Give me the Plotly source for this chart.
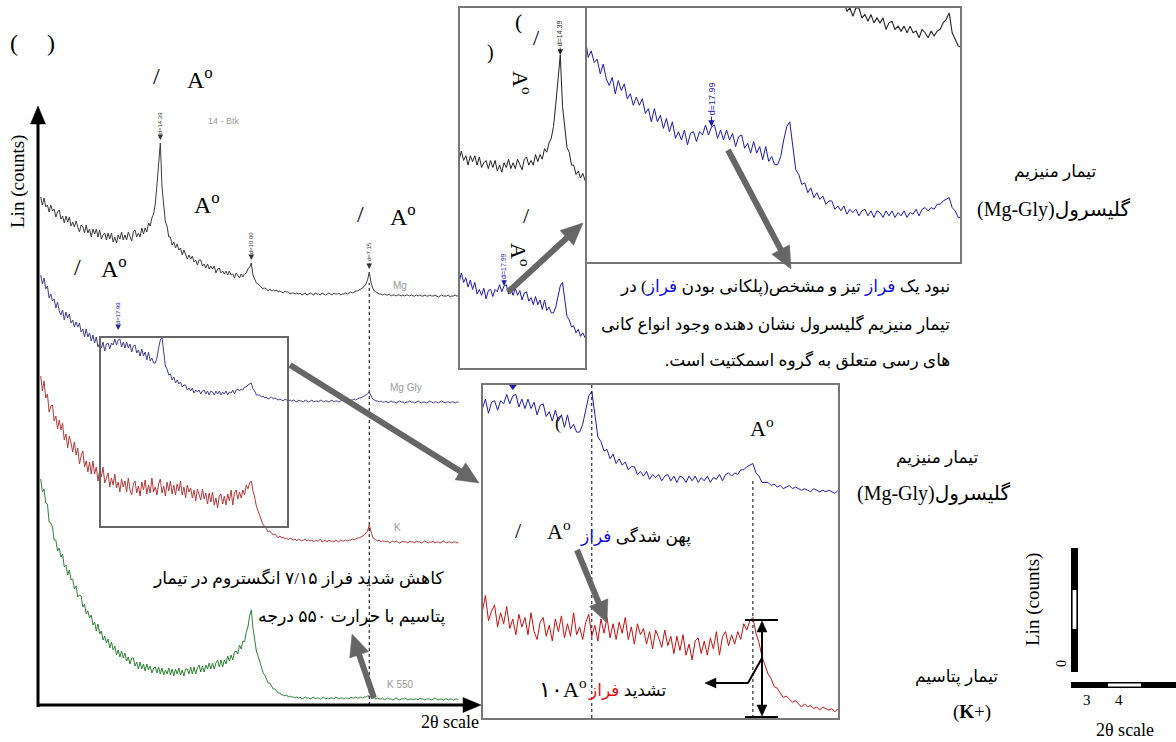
import math
import numpy as np
import plotly.graph_objects as go

# ---------------- data ----------------
TWO_THETA = np.round(2.6 + 0.05 * np.arange(249), 2)  # scan grid, degrees 2-theta

MG = [100, 92, 99, 90, 92, 85, 92, 86, 88, 80,
      85, 87, 78, 81, 74, 81, 75, 80, 71, 75,
      70, 76, 70, 65, 72, 70, 64, 72, 64, 68,
      60, 68, 63, 68, 60, 67, 58, 62, 64, 57,
      64, 58, 64, 55, 60, 54, 62, 58, 65, 57,
      62, 57, 65, 60, 56, 65, 67, 60, 64, 60,
      69, 63, 69, 65, 74, 71, 79, 83, 93, 112,
      135, 154, 110, 90, 75, 71, 60, 60, 52, 55,
      49, 53, 47, 49, 42, 47, 42, 38, 42, 38,
      41, 35, 37, 32, 37, 37, 31, 33, 29, 33,
      28, 31, 28, 31, 24, 28, 29, 24, 26, 23,
      26, 22, 26, 22, 23, 19, 24, 22, 19, 23,
      20, 23, 24, 28, 30, 34, 22, 18, 14, 13,
      11, 10, 8, 9, 8, 6, 8, 6, 7, 6,
      7, 5, 6, 5, 4, 6, 5, 5, 3, 4,
      4, 3, 4, 3, 4, 2, 3, 4, 2, 3,
      4, 3, 2, 4, 3, 3, 2, 4, 3, 2,
      3, 4, 3, 2, 4, 3, 3, 4, 2, 3,
      3, 4, 3, 4, 5, 4, 5, 6, 6, 7,
      8, 9, 11, 13, 17, 25, 15, 9, 6, 5,
      4, 3, 3, 2, 3, 2, 2, 3, 1, 2,
      2, 1, 2, 2, 1, 2, 1, 2, 2, 1,
      2, 1, 1, 2, 1, 2, 1, 1, 2, 1,
      1, 2, 1, 1, 2, 1, 0, 1, 2, 1,
      1, 1, 2, 0, 1, 1, 2, 1, 1]

MG_GLY = [128, 119, 125, 114, 117, 105, 109, 102, 104, 95,
          101, 92, 88, 93, 83, 91, 85, 89, 80, 83,
          76, 81, 76, 80, 71, 74, 66, 74, 66, 70,
          62, 68, 60, 66, 56, 60, 55, 61, 52, 59,
          60, 54, 60, 58, 64, 58, 63, 64, 56, 61,
          55, 61, 55, 59, 51, 57, 58, 50, 53, 47,
          54, 47, 51, 43, 51, 42, 45, 40, 40, 45,
          55, 63, 66, 50, 37, 34, 28, 29, 23, 26,
          20, 23, 19, 21, 16, 18, 18, 13, 15, 12,
          15, 10, 13, 11, 13, 9, 12, 13, 9, 12,
          8, 12, 11, 8, 12, 9, 12, 8, 11, 9,
          12, 8, 11, 10, 13, 9, 13, 14, 12, 14,
          13, 16, 16, 18, 19, 20, 14, 12, 8, 8,
          8, 6, 7, 5, 6, 4, 5, 6, 4, 5,
          4, 3, 4, 3, 2, 4, 3, 2, 3, 2,
          3, 2, 1, 3, 2, 2, 1, 3, 2, 1,
          2, 3, 1, 2, 2, 1, 3, 2, 1, 2,
          2, 1, 2, 3, 1, 2, 2, 1, 2, 3,
          2, 2, 3, 2, 3, 3, 4, 3, 4, 5,
          5, 6, 7, 8, 9, 11, 7, 4, 3, 2,
          2, 1, 2, 1, 1, 2, 0, 1, 2, 1,
          1, 0, 1, 2, 1, 1, 0, 1, 1, 2,
          1, 1, 0, 1, 2, 1, 0, 1, 1, 0,
          1, 2, 1, 0, 1, 1, 0, 1, 2, 1,
          0, 1, 1, 0, 1, 1, 0, 1, 1]

K_VALS = [167, 152, 162, 145, 149, 131, 137, 138, 122, 127,
          114, 123, 113, 120, 103, 109, 95, 107, 100, 91,
          101, 88, 95, 79, 87, 92, 76, 82, 71, 81,
          69, 82, 69, 76, 62, 73, 66, 76, 60, 66,
          70, 56, 65, 58, 69, 55, 61, 51, 64, 56,
          62, 51, 65, 53, 48, 59, 62, 50, 57, 47,
          61, 53, 63, 49, 58, 50, 65, 51, 56, 48,
          59, 64, 50, 57, 47, 61, 52, 62, 49, 58,
          48, 59, 52, 62, 48, 56, 45, 58, 51, 55,
          45, 53, 42, 54, 49, 43, 54, 44, 50, 39,
          50, 41, 51, 38, 45, 35, 47, 49, 39, 47,
          38, 49, 42, 53, 38, 50, 53, 44, 51, 45,
          53, 48, 58, 54, 60, 62, 52, 46, 37, 32,
          26, 23, 18, 17, 14, 11, 12, 10, 8, 9,
          7, 5, 7, 5, 6, 4, 5, 3, 5, 4,
          3, 4, 2, 4, 3, 2, 3, 4, 2, 3,
          2, 3, 1, 3, 2, 2, 4, 1, 2, 3,
          1, 3, 2, 2, 1, 3, 2, 1, 3, 2,
          2, 3, 2, 3, 3, 4, 3, 4, 5, 5,
          6, 7, 8, 10, 12, 18, 11, 6, 4, 3,
          2, 3, 1, 2, 2, 1, 2, 0, 1, 2,
          1, 2, 1, 0, 1, 2, 1, 1, 0, 2,
          1, 1, 0, 2, 1, 1, 0, 1, 2, 1,
          0, 1, 1, 2, 0, 1, 1, 0, 1, 2,
          1, 0, 1, 1, 0, 1, 1, 0, 1]

K550 = [221, 208, 211, 197, 196, 178, 177, 173, 160, 160,
        149, 152, 143, 146, 133, 135, 125, 130, 120, 121,
        111, 114, 103, 105, 104, 93, 96, 86, 89, 82,
        85, 75, 78, 69, 76, 66, 69, 60, 64, 57,
        61, 52, 58, 50, 54, 45, 50, 43, 49, 42,
        47, 39, 43, 36, 42, 42, 34, 38, 31, 38,
        31, 36, 29, 36, 30, 34, 27, 32, 33, 27,
        33, 26, 32, 25, 30, 26, 32, 25, 31, 24,
        31, 26, 32, 25, 30, 24, 31, 31, 26, 33,
        26, 33, 26, 32, 35, 28, 34, 28, 35, 31,
        37, 31, 37, 31, 37, 40, 33, 40, 33, 40,
        36, 44, 39, 45, 40, 48, 49, 46, 55, 51,
        59, 58, 68, 73, 84, 90, 72, 61, 49, 44,
        37, 33, 27, 25, 21, 17, 17, 14, 11, 11,
        9, 7, 7, 5, 5, 4, 5, 3, 4, 3,
        3, 2, 3, 2, 3, 1, 2, 3, 2, 2,
        1, 2, 3, 1, 2, 2, 1, 2, 3, 1,
        2, 1, 2, 2, 1, 3, 2, 1, 2, 2,
        1, 2, 2, 1, 3, 2, 2, 3, 2, 2,
        3, 2, 3, 3, 4, 4, 3, 2, 2, 1,
        2, 1, 1, 2, 0, 1, 2, 1, 1, 0,
        1, 2, 1, 0, 1, 1, 2, 1, 0, 1,
        1, 0, 1, 1, 0, 2, 1, 1, 0, 1,
        1, 1, 0, 1, 2, 1, 0, 1, 1, 0,
        1, 1, 0, 1, 1, 0, 1, 1, 0]

SERIES_NAMES = ["Mg", "Mg Gly", "K", "K 550"]
STACK_OFFSET = [408, 302, 162, 5]          # vertical stacking of the patterns

PEAK_LABELS = ["d=14.39", "d=10.00", "d=7.15", "d=17.99"]
PEAK_POS = [6.15, 8.85, 12.35, 4.9]
PEAK_SERIES = ["Mg", "Mg", "Mg", "Mg Gly"]

TXT_K550 = "کاهش شدید فراز ۷/۱۵ انگستروم در تیمار"
TXT_K550_2 = "پتاسیم با حرارت ۵۵۰ درجه"
BLUE_W = "<span style='color:#1010e0'>فراز</span>"
RED_W = "<span style='color:#e01010'>فراز</span>"
RLM = "\u200f"
PARA = [RLM + "نبود یک " + BLUE_W + " تیز و مشخص(پلکانی بودن " + BLUE_W + ") در" + RLM,
        RLM + "تیمار منیزیم گلیسرول نشان دهنده وجود انواع کانی" + RLM,
        RLM + "های رسی متعلق به گروه اسمکتیت است." + RLM]
LBL_MG = "تیمار منیزیم"
LBL_GLY = "(Mg-Gly)گلیسرول"
LBL_K = "تیمار پتاسیم"
TXT_BROAD = RLM + "پهن شدگی " + BLUE_W + RLM
TXT_STRONG = RLM + "تشدید " + RED_W + RLM

for arr in (MG, MG_GLY, K_VALS, K550):
    assert len(arr) == len(TWO_THETA), len(arr)

DATA = dict(zip(SERIES_NAMES, [MG, MG_GLY, K_VALS, K550]))
OFF = dict(zip(SERIES_NAMES, STACK_OFFSET))


def stacked(name, shift=0):
    return [v + OFF[name] + shift for v in DATA[name]]


def value_at(name, tt):
    i = int(np.argmin(np.abs(TWO_THETA - tt)))
    return DATA[name][i] + OFF[name]


# ---------------- layout helpers ----------------
W, H = 1176, 742
SERIF = "Liberation Serif, Times New Roman, DejaVu Serif, serif"
FA = "Liberation Serif, DejaVu Sans, serif"
SANS = "Liberation Sans, Arial, sans-serif"


def px(x):
    return x / W


def py(y):
    return 1 - y / H


annotations = []
shapes = []


def txt(x, y, s, size=18, color="black", angle=0, family=SERIF, xanchor="center", yanchor="middle"):
    annotations.append(dict(x=px(x), y=py(y), xref="paper", yref="paper", text=s, showarrow=False,
                            textangle=angle, xanchor=xanchor, yanchor=yanchor,
                            font=dict(size=size, color=color, family=family)))


def pline(x0, y0, x1, y1, color="black", width=2, dash="solid"):
    shapes.append(dict(type="line", xref="paper", yref="paper", x0=px(x0), y0=py(y0), x1=px(x1), y1=py(y1),
                       line=dict(color=color, width=width, dash=dash)))


def head(xt, yt, ux, uy, hl, hw, color):
    bx, by = xt - ux * hl, yt - uy * hl
    nx, ny = -uy, ux
    p1 = (bx + nx * hw / 2, by + ny * hw / 2)
    p2 = (bx - nx * hw / 2, by - ny * hw / 2)
    path = "M {:.5f},{:.5f} L {:.5f},{:.5f} L {:.5f},{:.5f} Z".format(
        px(xt), py(yt), px(p1[0]), py(p1[1]), px(p2[0]), py(p2[1]))
    shapes.append(dict(type="path", xref="paper", yref="paper", path=path, fillcolor=color,
                       line=dict(color=color, width=0.5)))
    return bx, by


def arrow(x0, y0, x1, y1, color="#666666", width=6, hl=22, hw=20, both=False):
    L = math.hypot(x1 - x0, y1 - y0)
    ux, uy = (x1 - x0) / L, (y1 - y0) / L
    ex, ey = head(x1, y1, ux, uy, hl, hw, color)
    sx, sy = x0, y0
    if both:
        sx, sy = head(x0, y0, -ux, -uy, hl, hw, color)
    pline(sx, sy, ex + ux * 1, ey + uy * 1, color=color, width=width)


def prect(x0, y0, x1, y1, fill="black", lw=0, lc="black"):
    shapes.append(dict(type="rect", xref="paper", yref="paper", x0=px(x0), y0=py(y0), x1=px(x1), y1=py(y1),
                       fillcolor=fill, line=dict(width=lw, color=lc)))


def axis(dom_px, rng, horizontal, box, anchor):
    if horizontal:
        dom = [px(dom_px[0]), px(dom_px[1])]
    else:
        dom = [py(dom_px[1]), py(dom_px[0])]
    return dict(domain=dom, range=rng, showgrid=False, zeroline=False, showticklabels=False, ticks="",
                showline=box, mirror=box, linecolor="#777777", linewidth=2, fixedrange=True, anchor=anchor)


fig = go.Figure()

MAIN_COL = {"Mg": "#3c3c3c", "Mg Gly": "#404090", "K": "#b33a3a", "K 550": "#2f8035"}
INSET_COL = {"Mg": "#222222", "Mg Gly": "#1c1ca8", "K": "#c41010", "K 550": "#2f8035"}


def add(name, xa, ya, col, width=1.0, shift=0):
    fig.add_trace(go.Scatter(x=TWO_THETA, y=stacked(name, shift), mode="lines", xaxis=xa, yaxis=ya,
                             line=dict(color=col, width=width), showlegend=False, hoverinfo="skip"))


# main stacked patterns
for name in SERIES_NAMES:
    add(name, "x", "y", MAIN_COL[name], 1.0)
# inset A (narrow, top)
add("Mg", "x2", "y2", INSET_COL["Mg"], 1.0)
add("Mg Gly", "x2", "y2", INSET_COL["Mg Gly"], 1.0)
# inset B (wide, top)
add("Mg", "x3", "y3", INSET_COL["Mg"], 1.1, shift=-8)
add("Mg Gly", "x3", "y3", INSET_COL["Mg Gly"], 1.0)
add("K", "x3", "y3", INSET_COL["K"], 1.0, shift=-20)
# inset C (bottom)
add("Mg Gly", "x4", "y4", INSET_COL["Mg Gly"], 1.0)
add("K", "x4", "y4", INSET_COL["K"], 1.0)
fig.add_trace(go.Scatter(x=[PEAK_POS[3]], y=[371], mode="markers", xaxis="x4", yaxis="y4",
                         marker=dict(symbol="triangle-down", size=7, color="#1c1ca8"),
                         showlegend=False, hoverinfo="skip"))

# peak markers on the main plot
for lab, pos, ser in zip(PEAK_LABELS, PEAK_POS, PEAK_SERIES):
    col = "#2020a0" if ser == "Mg Gly" else "#333333"
    extra = 10 if ser == "Mg Gly" else 3
    annotations.append(dict(x=pos, y=value_at(ser, pos) + extra, xref="x", yref="y", text=lab,
                            textangle=-90, font=dict(size=6, color=col, family=SANS),
                            showarrow=True, ax=0, ay=-17, arrowhead=2, arrowsize=1.4, arrowwidth=0.8,
                            arrowcolor=col))
# inset markers
annotations.append(dict(x=PEAK_POS[0], y=value_at("Mg", PEAK_POS[0]), xref="x2", yref="y2", text=PEAK_LABELS[0],
                        textangle=-90, font=dict(size=7, color="#222", family=SANS), showarrow=True,
                        ax=0, ay=-22, arrowhead=2, arrowsize=1.4, arrowwidth=0.8, arrowcolor="#222"))
annotations.append(dict(x=PEAK_POS[3], y=value_at("Mg Gly", PEAK_POS[3]), xref="x2", yref="y2", text=PEAK_LABELS[3],
                        textangle=-90, font=dict(size=7, color="#2020b0", family=SANS), showarrow=True,
                        ax=0, ay=-20, arrowhead=2, arrowsize=1.4, arrowwidth=0.8, arrowcolor="#2020b0"))
annotations.append(dict(x=PEAK_POS[3], y=value_at("Mg Gly", PEAK_POS[3]), xref="x3", yref="y3", text=PEAK_LABELS[3],
                        textangle=-90, font=dict(size=9, color="#1c1ca8", family=SANS), showarrow=True,
                        ax=0, ay=-28, arrowhead=2, arrowsize=1.3, arrowwidth=1, arrowcolor="#1c1ca8"))

# main plot shapes
shapes.append(dict(type="rect", xref="x", yref="y", x0=4.36, x1=9.94, y0=178, y1=368,
                   line=dict(color="#666666", width=2)))
shapes.append(dict(type="line", xref="x", yref="y", x0=PEAK_POS[2], x1=PEAK_POS[2], y0=0, y1=422,
                   line=dict(color="black", width=1, dash="dot")))
# inset C dotted lines
shapes.append(dict(type="line", xref="x4", yref="paper", x0=6.2, x1=6.2, y0=py(718), y1=py(385),
                   line=dict(color="black", width=1, dash="dot")))
shapes.append(dict(type="line", xref="x4", yref="paper", x0=PEAK_POS[1], x1=PEAK_POS[1], y0=py(718), y1=py(478),
                   line=dict(color="black", width=1, dash="dot")))

# axes arrows (main)
arrow(38, 707, 38, 106, color="black", width=3, hl=18, hw=15)
arrow(37, 705, 481, 705, color="black", width=3, hl=18, hw=15)

# grey explanatory arrows
arrow(290, 365, 479, 483)
arrow(508, 292, 583, 223)
arrow(728, 150, 791, 269)
arrow(577, 550, 607, 623)
arrow(374, 698, 352, 634)

# bracket in inset C
pline(745, 620, 778, 620)
pline(745, 717, 778, 717)
arrow(762, 716, 762, 621, color="black", width=2, hl=11, hw=10, both=True)
pline(762, 658, 748, 683)
arrow(748.5, 683, 705, 683, color="black", width=2, hl=11, hw=10)

# scale bar (bottom right)
prect(1071, 548, 1078, 672)
prect(1072.6, 590, 1076.4, 629, fill="white")
prect(1071, 682, 1176, 688)
prect(1108, 683.6, 1141, 686.4, fill="white")

# ---------------- texts ----------------
txt(14, 43, "(", 24)
txt(51, 43, ")", 24)
txt(156, 76, "/", 24)
txt(200, 78, "A<sup>o</sup>", 24)
txt(207, 203, "A<sup>o</sup>", 24)
txt(360, 214, "/", 24)
txt(403, 215, "A<sup>o</sup>", 24)
txt(77, 267, "/", 24)
txt(114, 267, "A<sup>o</sup>", 24)
txt(18, 182, "Lin (counts)", 19, angle=-90)
txt(450, 722, "2θ scale", 18)

txt(224, 121, "14 - Btk", 9, "#999999", family=SANS)
txt(400, 285, SERIES_NAMES[0], 10, "#999999", family=SANS)
txt(406, 387, SERIES_NAMES[1], 10, "#999999", family=SANS)
txt(397, 527, SERIES_NAMES[2], 10, "#999999", family=SANS)
txt(400, 684, SERIES_NAMES[3], 10, "#999999", family=SANS)

txt(446, 578, TXT_K550, 17.3, family=FA, xanchor="right")
txt(448, 617, TXT_K550_2, 17.3, family=FA, xanchor="right")

# inset A texts
txt(518, 22, "(", 22)
txt(536, 37, "/", 22)
txt(490, 52, ")", 20)
txt(522, 83, "A<sup>o</sup>", 22, angle=90)
txt(526, 215, "/", 22)
txt(520, 255, "A<sup>o</sup>", 22, angle=90)

# paragraph under inset B
txt(952, 287, PARA[0], 17, family=FA, xanchor="right")
txt(952, 325, PARA[1], 17, family=FA, xanchor="right")
txt(952, 360, PARA[2], 17, family=FA, xanchor="right")

# inset C texts
txt(558, 423, "(", 18)
txt(762, 427, "A<sup>o</sup>", 22)
txt(518, 530, "/", 22)
txt(559, 530, "A<sup>o</sup>", 22)
txt(693, 536, TXT_BROAD, 17, family=FA, xanchor="right")
txt(563, 688, "۱۰A<sup>o</sup>", 22)
txt(668, 690, TXT_STRONG, 17, family=FA, xanchor="right")

# right labels
txt(1055, 172, LBL_MG, 17, family=FA)
txt(1053, 210, LBL_GLY, 20, family=FA)
txt(937, 458, LBL_MG, 17, family=FA)
txt(933, 493, LBL_GLY, 20, family=FA)
txt(956, 677, LBL_K, 17, family=FA)
txt(972, 712, "(<b>K</b>+)", 19)

# scale-bar texts
txt(1033, 600, "Lin (counts)", 19, angle=-90)
txt(1061, 664, "0", 14, angle=-90)
txt(1087, 700, "3", 15)
txt(1119, 700, "4", 15)
txt(1125, 730, "2θ scale", 18)

fig.update_layout(
    width=W, height=H, margin=dict(l=0, r=0, t=0, b=0),
    paper_bgcolor="white", plot_bgcolor="rgba(0,0,0,0)",
    showlegend=False,
    xaxis=axis((38, 470), [2.52, 15.34], True, False, "y"),
    yaxis=axis((105, 705), [0, 600], False, False, "x"),
    xaxis2=axis((460, 585), [3.92, 6.70], True, True, "y2"),
    yaxis2=axis((8, 368), [295, 602], False, True, "x2"),
    xaxis3=axis((587, 960), [2.83, 9.03], True, True, "y3"),
    yaxis3=axis((8, 262), [283, 437], False, True, "x3"),
    xaxis4=axis((483, 838), [4.41, 10.25], True, True, "y4"),
    yaxis4=axis((385, 718), [160, 372], False, True, "x4"),
    annotations=annotations, shapes=shapes,
)

fig.write_html("out.html", config={"displayModeBar": False, "staticPlot": True},
               post_script="document.body.style.margin='0';document.body.style.overflow='hidden';")
